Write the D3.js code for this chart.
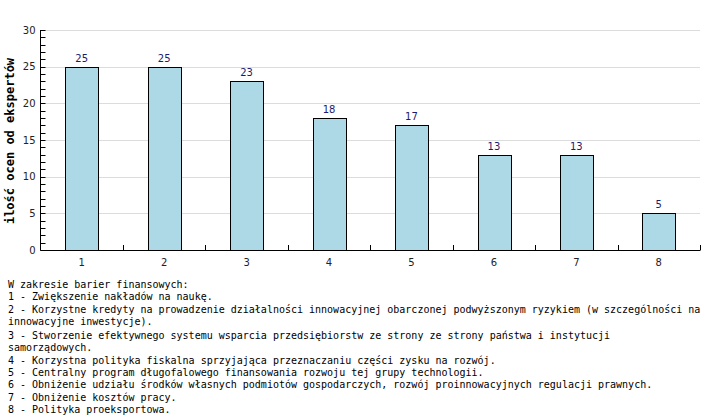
<!DOCTYPE html>
<html><head><meta charset="utf-8">
<script src="https://cdn.jsdelivr.net/npm/d3@7"></script>
<style>body{margin:0;background:#fff}svg{display:block}</style>
</head><body>
<script>
const categories = ["1","2","3","4","5","6","7","8"];
const values = [25,25,23,18,17,13,13,5];
const yTicks = [0,5,10,15,20,25,30];
const yTitle = "ilość ocen od ekspertów";
const legendLines = [
  "W zakresie barier finansowych:",
  "1 - Zwiększenie nakładów na naukę.",
  "2 - Korzystne kredyty na prowadzenie działalności innowacyjnej obarczonej podwyższonym ryzykiem (w szczególności na",
  "innowacyjne inwestycje).",
  "3 - Stworzenie efektywnego systemu wsparcia przedsiębiorstw ze strony ze strony państwa i instytucji",
  "samorządowych.",
  "4 - Korzystna polityka fiskalna sprzyjająca przeznaczaniu części zysku na rozwój.",
  "5 - Centralny program długofalowego finansowania rozwoju tej grupy technologii.",
  "6 - Obniżenie udziału środków własnych podmiotów gospodarczych, rozwój proinnowacyjnych regulacji prawnych.",
  "7 - Obniżenie kosztów pracy.",
  "8 - Polityka proeksportowa."
];

(function(){
const W = 714, H = 419;
const svg = d3.select("body").append("svg").attr("width", W).attr("height", H);
const pL = 40.5, pR = 700, pT = 30, pB = 250;

const x = d3.scaleBand().domain(categories).range([pL, pR]).padding(0);
const y = d3.scaleLinear().domain([0, 30]).range([pB, pT]);
const barW = x.bandwidth() * 0.395;

// gridlines
svg.append("g").selectAll("line").data(yTicks.filter(d => d > 0)).join("line")
  .attr("x1", pL).attr("x2", pR)
  .attr("y1", d => Math.round(y(d)) + 0.5).attr("y2", d => Math.round(y(d)) + 0.5)
  .attr("stroke", "#dcdcdc").attr("stroke-width", 1);

// bars
svg.append("g").selectAll("rect").data(values).join("rect")
  .attr("x", (d, i) => Math.round(x(categories[i]) + x.bandwidth() / 2 - barW / 2) + 0.5)
  .attr("y", d => Math.round(y(d)) + 0.5)
  .attr("width", Math.round(barW))
  .attr("height", d => Math.round(y(0)) - Math.round(y(d)))
  .attr("fill", "#add8e6").attr("stroke", "#000").attr("stroke-width", 1);

// value labels
svg.append("g").selectAll("text").data(values).join("text")
  .attr("x", (d, i) => x(categories[i]) + x.bandwidth() / 2)
  .attr("y", d => y(d) - 5)
  .attr("text-anchor", "middle")
  .attr("font-family", "DejaVu Sans, Verdana, sans-serif").attr("font-size", 10)
  .attr("fill", "#1c1c6e")
  .text(d => d);

// y axis
const yAxisG = svg.append("g");
yAxisG.append("line").attr("x1", pL).attr("x2", pL).attr("y1", pT).attr("y2", pB + 0.5).attr("stroke", "#000");
yAxisG.selectAll("line.minor").data(d3.range(0, 31)).join("line").attr("class", "minor")
  .attr("x1", pL).attr("x2", pL + 5)
  .attr("y1", d => Math.round(y(d)) + 0.5).attr("y2", d => Math.round(y(d)) + 0.5)
  .attr("stroke", "#000");
yAxisG.selectAll("text").data(yTicks).join("text")
  .attr("x", pL - 5).attr("y", d => y(d) + 3.5)
  .attr("text-anchor", "end")
  .attr("font-family", "DejaVu Sans, Verdana, sans-serif").attr("font-size", 10)
  .attr("fill", "#222")
  .text(d => d);

// x axis
const xAxisG = svg.append("g");
xAxisG.append("line").attr("x1", pL).attr("x2", pR + 0.5)
  .attr("y1", Math.round(pB) + 0.5).attr("y2", Math.round(pB) + 0.5).attr("stroke", "#000");
xAxisG.selectAll("line.tick").data(categories).join("line").attr("class", "tick")
  .attr("x1", d => Math.round(x(d) + x.bandwidth()) + 0.5).attr("x2", d => Math.round(x(d) + x.bandwidth()) + 0.5)
  .attr("y1", pB).attr("y2", pB - 5).attr("stroke", "#000");
xAxisG.selectAll("text").data(categories).join("text")
  .attr("x", d => x(d) + x.bandwidth() / 2).attr("y", pB + 16)
  .attr("text-anchor", "middle")
  .attr("font-family", "DejaVu Sans, Verdana, sans-serif").attr("font-size", 10)
  .attr("fill", "#222")
  .text(d => d);

// y title
svg.append("text")
  .attr("transform", `translate(14, ${(pT + pB) / 2 + 1}) rotate(-90)`)
  .attr("text-anchor", "middle")
  .attr("font-family", "DejaVu Sans Mono, monospace").attr("font-size", 12).attr("font-weight", "bold")
  .attr("fill", "#000")
  .text(yTitle);

// legend text
const lineYs = [284, 296, 309, 321, 335, 347, 360, 372, 384, 397, 409];
svg.append("g").selectAll("text").data(legendLines).join("text")
  .attr("x", 8).attr("y", (d, i) => lineYs[i] + 3.5)
  .attr("font-family", "DejaVu Sans Mono, monospace").attr("font-size", 10)
  .attr("fill", "#000")
  .text(d => d);
})();
</script>
</body></html>
